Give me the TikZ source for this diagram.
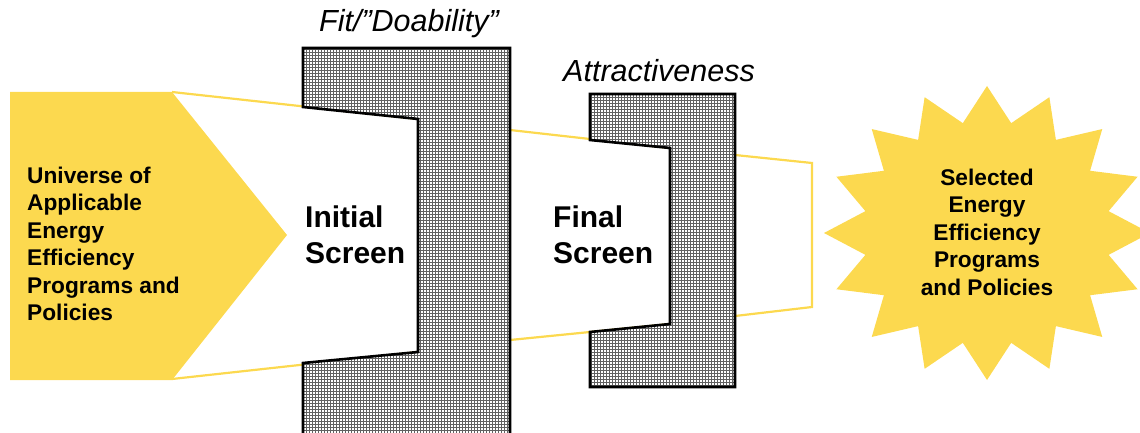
\documentclass[tikz,border=0pt]{standalone}
\usepackage{fontspec}
\setmainfont{Liberation Sans}
\usetikzlibrary{patterns}
\newlength{\du}
\setlength{\du}{1pt}

\begin{document}
\begin{tikzpicture}
\pgftransformxscale{1.000000}
\pgftransformyscale{-1.000000}
\useasboundingbox (0\du,0\du) rectangle (1140\du,433\du);
\definecolor{funnelcolor}{rgb}{0.988000, 0.851000, 0.310000}
\definecolor{gridcolor}{rgb}{0.380000, 0.380000, 0.380000}
\tikzset{
  funnelline/.style={draw=funnelcolor, line width=2.2\du},
  screenedge/.style={draw=black, line width=2.6\du, line join=miter},
  screengrid/.style={pattern=grid, pattern color=gridcolor},
  bigtext/.style={font=\bfseries\fontsize{30}{36}\selectfont, align=left, inner sep=0pt},
  smalltext/.style={font=\bfseries\fontsize{22.7}{27.5}\selectfont, inner sep=0pt},
  headtext/.style={font=\itshape\fontsize{30.5}{32}\selectfont, inner sep=0pt}
}
% left arrow
\fill[funnelcolor] (10\du,92\du)--(172\du,92\du)--(287\du,235\du)--(172\du,380\du)--(10\du,380\du)--cycle;
% funnel lines
\draw[funnelline] (172\du,92\du)--(418\du,119\du);
\draw[funnelline] (172\du,379\du)--(418\du,352\du);
\draw[funnelline] (510\du,130\du)--(670\du,148\du);
\draw[funnelline] (510\du,340\du)--(670\du,324\du);
\draw[funnelline] (735\du,155\du)--(812\du,163\du)--(812\du,307\du)--(735\du,316\du);
% first screen
\fill[white] (303\du,48\du)--(510\du,48\du)--(510\du,445\du)--(303\du,445\du)--(303\du,363\du)--(418\du,352\du)--(418\du,119\du)--(303\du,107\du)--cycle;
\fill[screengrid] (303\du,48\du)--(510\du,48\du)--(510\du,445\du)--(303\du,445\du)--(303\du,363\du)--(418\du,352\du)--(418\du,119\du)--(303\du,107\du)--cycle;
\draw[screenedge] (303\du,48\du)--(510\du,48\du)--(510\du,445\du)--(303\du,445\du)--(303\du,363\du)--(418\du,352\du)--(418\du,119\du)--(303\du,107\du)--cycle;
% second screen
\fill[white] (590\du,94\du)--(735\du,94\du)--(735\du,387\du)--(590\du,387\du)--(590\du,332\du)--(670\du,324\du)--(670\du,148\du)--(590\du,140\du)--cycle;
\fill[screengrid] (590\du,94\du)--(735\du,94\du)--(735\du,387\du)--(590\du,387\du)--(590\du,332\du)--(670\du,324\du)--(670\du,148\du)--(590\du,140\du)--cycle;
\draw[screenedge] (590\du,94\du)--(735\du,94\du)--(735\du,387\du)--(590\du,387\du)--(590\du,332\du)--(670\du,324\du)--(670\du,148\du)--(590\du,140\du)--cycle;
% star
\fill[funnelcolor] (987\du,86\du) \foreach \k in {1,...,31} {
  -- ({(987+(mod(\k,2)==1 ? 124 : 163)*cos(90+11.25*\k))*\du}, {(233-(mod(\k,2)==1 ? 112 : 147)*sin(90+11.25*\k))*\du})
} -- cycle;
% labels
\node[headtext] (fitlabel) at (409\du,24\du){Fit/”Doability”};
\node[headtext] (attrlabel) at (659\du,71\du){Attractiveness};
\node[smalltext, align=left, anchor=west] (universe) at (27\du,244\du){Universe of\\Applicable\\Energy\\Efficiency\\Programs and\\Policies};
\node[bigtext, anchor=west] (initial) at (305\du,235\du){Initial\\Screen};
\node[bigtext, anchor=west] (final) at (553\du,235\du){Final\\Screen};
\node[smalltext, align=center] (selected) at (987\du,232\du){Selected\\Energy\\Efficiency\\Programs\\and Policies};
\end{tikzpicture}
\end{document}
